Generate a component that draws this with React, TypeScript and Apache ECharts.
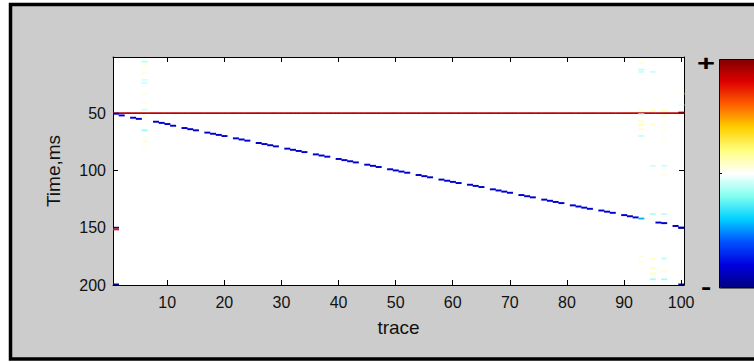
import React, { useEffect, useRef } from "react";
import * as echarts from "echarts";

// ---- axis ticks ----
const xTickValues = [10, 20, 30, 40, 50, 60, 70, 80, 90, 100];
const yTickValues = [50, 100, 150, 200];

// ---- flat (positive) event: one sample per trace ----
const flatTraces = [
  1, 2, 3, 4, 5, 6, 7, 8, 9, 10, 11, 12, 13, 14, 15, 16, 17, 18, 19, 20,
  21, 22, 23, 24, 25, 26, 27, 28, 29, 30, 31, 32, 33, 34, 35, 36, 37, 38, 39, 40,
  41, 42, 43, 44, 45, 46, 47, 48, 49, 50, 51, 52, 53, 54, 55, 56, 57, 58, 59, 60,
  61, 62, 63, 64, 65, 66, 67, 68, 69, 70, 71, 72, 73, 74, 75, 76, 77, 78, 79, 80,
  81, 82, 83, 84, 85, 86, 87, 88, 89, 90, 91, 92, 93, 94, 95, 96, 97, 98, 99, 100,
];
const flatTimes = [
  50, 50, 50, 50, 50, 50, 50, 50, 50, 50, 50, 50, 50, 50, 50, 50, 50, 50, 50, 50,
  50, 50, 50, 50, 50, 50, 50, 50, 50, 50, 50, 50, 50, 50, 50, 50, 50, 50, 50, 50,
  50, 50, 50, 50, 50, 50, 50, 50, 50, 50, 50, 50, 50, 50, 50, 50, 50, 50, 50, 50,
  50, 50, 50, 50, 50, 50, 50, 50, 50, 50, 50, 50, 50, 50, 50, 50, 50, 50, 50, 50,
  50, 50, 50, 50, 50, 50, 50, 50, 50, 50, 50, 50, 50, 50, 50, 50, 50, 50, 50, 50,
];
const flatAmplitude = 0.88;

// ---- dipping (negative) event: visible samples ----
const dipTraces = [
  1, 2, 4, 5, 8, 9, 10, 11, 13, 14, 15, 17, 18, 19, 20, 22, 23, 24, 26, 27,
  28, 29, 31, 32, 33, 34, 36, 37, 38, 40, 41, 42, 43, 45, 46, 47, 49, 50, 51, 52,
  54, 55, 56, 58, 59, 60, 61, 63, 64, 65, 67, 68, 69, 70, 72, 73, 74, 76, 77, 78,
  79, 81, 82, 83, 84, 86, 87, 88, 90, 91, 92, 96, 97, 99, 100,
];
const dipTimes = [
  50.5, 52, 54, 55, 57.5, 58.5, 59.5, 61, 63, 64, 65, 67, 68, 69, 70, 72, 73, 74, 76, 77,
  78, 79, 81, 82, 83, 84, 86, 87, 88, 90, 91, 92, 93, 95, 96, 97, 99, 100, 101, 102,
  104, 105, 106, 108, 109, 110, 111, 112.5, 113.5, 114.5, 116.5, 117.5, 118.5, 119.5, 121.5, 122.5, 123.5, 125.5, 126.5, 127.5,
  128.5, 130.5, 131.5, 132.5, 133.5, 135, 136, 137, 139, 140, 141, 145.5, 146, 148.5, 150,
];
const dipAmplitude = -0.84;

// ---- isolated samples: [trace, time, amplitude] ----
const spots = [
  [1, 150, -0.9], [1, 151.5, 0.75], [1, 199.5, -1], [100, 49.5, 1], [100, 199.5, -1],
  [93, 142, -0.45], [100, 150, -1],
  [6, 5, -0.12], [6, 9, 0.06], [6, 15, 0.05], [6, 21, -0.06], [6, 23.5, -0.08], [6, 33, 0.06],
  [6, 41, 0.05], [6, 47, -0.08], [6, 53, 0.05], [6, 65, -0.18], [6, 71, 0.05], [6, 75, 0.05], [6, 79, 0.04],
  [93, 6, 0.06], [93, 12, -0.1], [93, 14, -0.08], [93, 48, 0.08], [93, 51, -0.08], [93, 57, 0.1],
  [93, 60, 0.13], [93, 64, 0.08], [93, 70, -0.1], [93, 175, 0.05], [93, 180, 0.05],
  [95, 14, -0.08], [95, 48, 0.1], [95, 60, 0.08], [95, 96, -0.08], [95, 138, -0.13],
  [95, 177, 0.08], [95, 185, 0.1], [95, 190, 0.13], [95, 195, -0.15],
  [97, 48, 0.1], [97, 52, 0.08], [97, 58, 0.05], [97, 65, 0.05], [97, 75, 0.04], [97, 96, -0.08],
  [97, 103, 0.06], [97, 138, -0.1], [97, 177, -0.1], [97, 188, 0.08], [97, 195, -0.15],
  [100, 33, 0.04], [100, 43, -0.04],
];

// ---- colormap (min -> max) ----
const colorStops = [
  "#000080", "#0000e0", "#0050ff", "#00d0ff", "#80fff0", "#ffffff",
  "#ffff80", "#ffd000", "#ff6000", "#e00000", "#800000",
];

const FONT = "'Liberation Sans', Arial, sans-serif";

function makeRender(thick: number) {
  return (params: any, api: any) => {
    const tr = api.value(0);
    const t = api.value(1);
    const a = api.coord([tr - 0.5, t - thick / 2]);
    const b = api.coord([tr + 0.5, t + thick / 2]);
    const cs = params.coordSys;
    const x0 = Math.max(Math.min(a[0], b[0]), cs.x);
    const x1 = Math.min(Math.max(a[0], b[0]), cs.x + cs.width);
    const y0 = Math.max(Math.min(a[1], b[1]), cs.y);
    const y1 = Math.min(Math.max(a[1], b[1]), cs.y + cs.height);
    return {
      type: "rect",
      shape: { x: x0, y: y0, width: Math.max(0, x1 - x0 + 0.3), height: Math.max(0, y1 - y0) },
      style: { fill: api.visual("color") },
    };
  };
}

export default function App() {
  const ref = useRef<HTMLDivElement>(null);

  useEffect(() => {
    if (!ref.current) return;
    const chart = echarts.init(ref.current, null, { renderer: "svg" });

    const flatData = flatTraces.map((tr, i) => [tr, flatTimes[i], flatAmplitude]);
    const dipData = dipTraces.map((tr, i) => [tr, dipTimes[i], dipAmplitude]);

    const axisCommon = {
      type: "value" as const,
      splitLine: { show: false },
      axisLine: { show: true, onZero: false, lineStyle: { color: "#000", width: 1 } },
    };

    chart.setOption({
      animation: false,
      backgroundColor: "#ffffff",
      grid: {
        left: 113,
        top: 57,
        right: 70,
        bottom: 77,
        show: true,
        backgroundColor: "#ffffff",
        borderWidth: 0,
      },
      xAxis: [
        {
          ...axisCommon,
          min: 0.5,
          max: 100.5,
          position: "bottom",
          axisTick: { show: true, inside: true, length: 5, customValues: xTickValues, lineStyle: { color: "#000" } },
          axisLabel: { customValues: xTickValues, color: "#111", fontSize: 16, fontFamily: FONT, margin: 9 },
          name: "trace",
          nameLocation: "middle",
          nameGap: 33,
          nameTextStyle: { color: "#111", fontSize: 19, fontFamily: FONT },
        },
        {
          ...axisCommon,
          min: 0.5,
          max: 100.5,
          position: "top",
          axisTick: { show: true, inside: true, length: 5, customValues: xTickValues, lineStyle: { color: "#000" } },
          axisLabel: { show: false },
        },
      ],
      yAxis: [
        {
          ...axisCommon,
          inverse: true,
          min: 1,
          max: 200,
          position: "left",
          axisTick: { show: true, inside: true, length: 5, customValues: yTickValues, lineStyle: { color: "#000" } },
          axisLabel: { customValues: yTickValues, color: "#111", fontSize: 16, fontFamily: FONT, margin: 7 },
          name: "Time,ms",
          nameLocation: "middle",
          nameGap: 50,
          nameTextStyle: { color: "#111", fontSize: 19, fontFamily: FONT },
        },
        {
          ...axisCommon,
          inverse: true,
          min: 1,
          max: 200,
          position: "right",
          axisTick: { show: true, inside: true, length: 5, customValues: yTickValues, lineStyle: { color: "#000" } },
          axisLabel: { show: false },
        },
      ],
      visualMap: {
        type: "continuous",
        min: -1,
        max: 1,
        dimension: 2,
        seriesIndex: [0, 1, 2],
        inRange: { color: colorStops },
        orient: "vertical",
        left: 719,
        top: 59,
        itemWidth: 40,
        itemHeight: 229,
        padding: 0,
        calculable: false,
        hoverLink: false,
      },
      series: [
        {
          type: "custom",
          xAxisIndex: 0,
          yAxisIndex: 0,
          renderItem: makeRender(1.5),
          data: flatData,
          encode: { x: 0, y: 1 },
          z: 2,
        },
        {
          type: "custom",
          xAxisIndex: 0,
          yAxisIndex: 0,
          renderItem: makeRender(1.7),
          data: dipData,
          encode: { x: 0, y: 1 },
          z: 3,
        },
        {
          type: "custom",
          xAxisIndex: 0,
          yAxisIndex: 0,
          renderItem: makeRender(1.6),
          data: spots,
          encode: { x: 0, y: 1 },
          z: 4,
        },
      ],
      graphic: [
        {
          type: "rect",
          z: -10,
          shape: { x: 10.5, y: 4.5, width: 800, height: 354.5 },
          style: { fill: "#cccccc", stroke: "#000000", lineWidth: 3.5 },
        },
        {
          type: "rect",
          z: 100,
          shape: { x: 719.5, y: 59.5, width: 60, height: 228.5 },
          style: { fill: "none", stroke: "#000000", lineWidth: 1 },
        },
        {
          type: "line",
          z: 100,
          shape: { x1: 719, y1: 173.5, x2: 722, y2: 173.5 },
          style: { stroke: "#000000", lineWidth: 1 },
        },
        {
          type: "text",
          z: 100,
          x: 706,
          y: 64,
          scaleX: 1.4,
          style: {
            text: "+",
            fontSize: 22,
            fontWeight: "bold",
            fontFamily: FONT,
            fill: "#000",
            align: "center",
            verticalAlign: "middle",
          },
        },
        {
          type: "text",
          z: 100,
          x: 706,
          y: 287,
          scaleX: 1.4,
          style: {
            text: "-",
            fontSize: 22,
            fontWeight: "bold",
            fontFamily: FONT,
            fill: "#000",
            align: "center",
            verticalAlign: "middle",
          },
        },
      ],
    });

    return () => chart.dispose();
  }, []);

  return (
    <div
      ref={ref}
      style={{ position: "fixed", left: 0, top: 0, width: 754, height: 362 }}
    />
  );
}
